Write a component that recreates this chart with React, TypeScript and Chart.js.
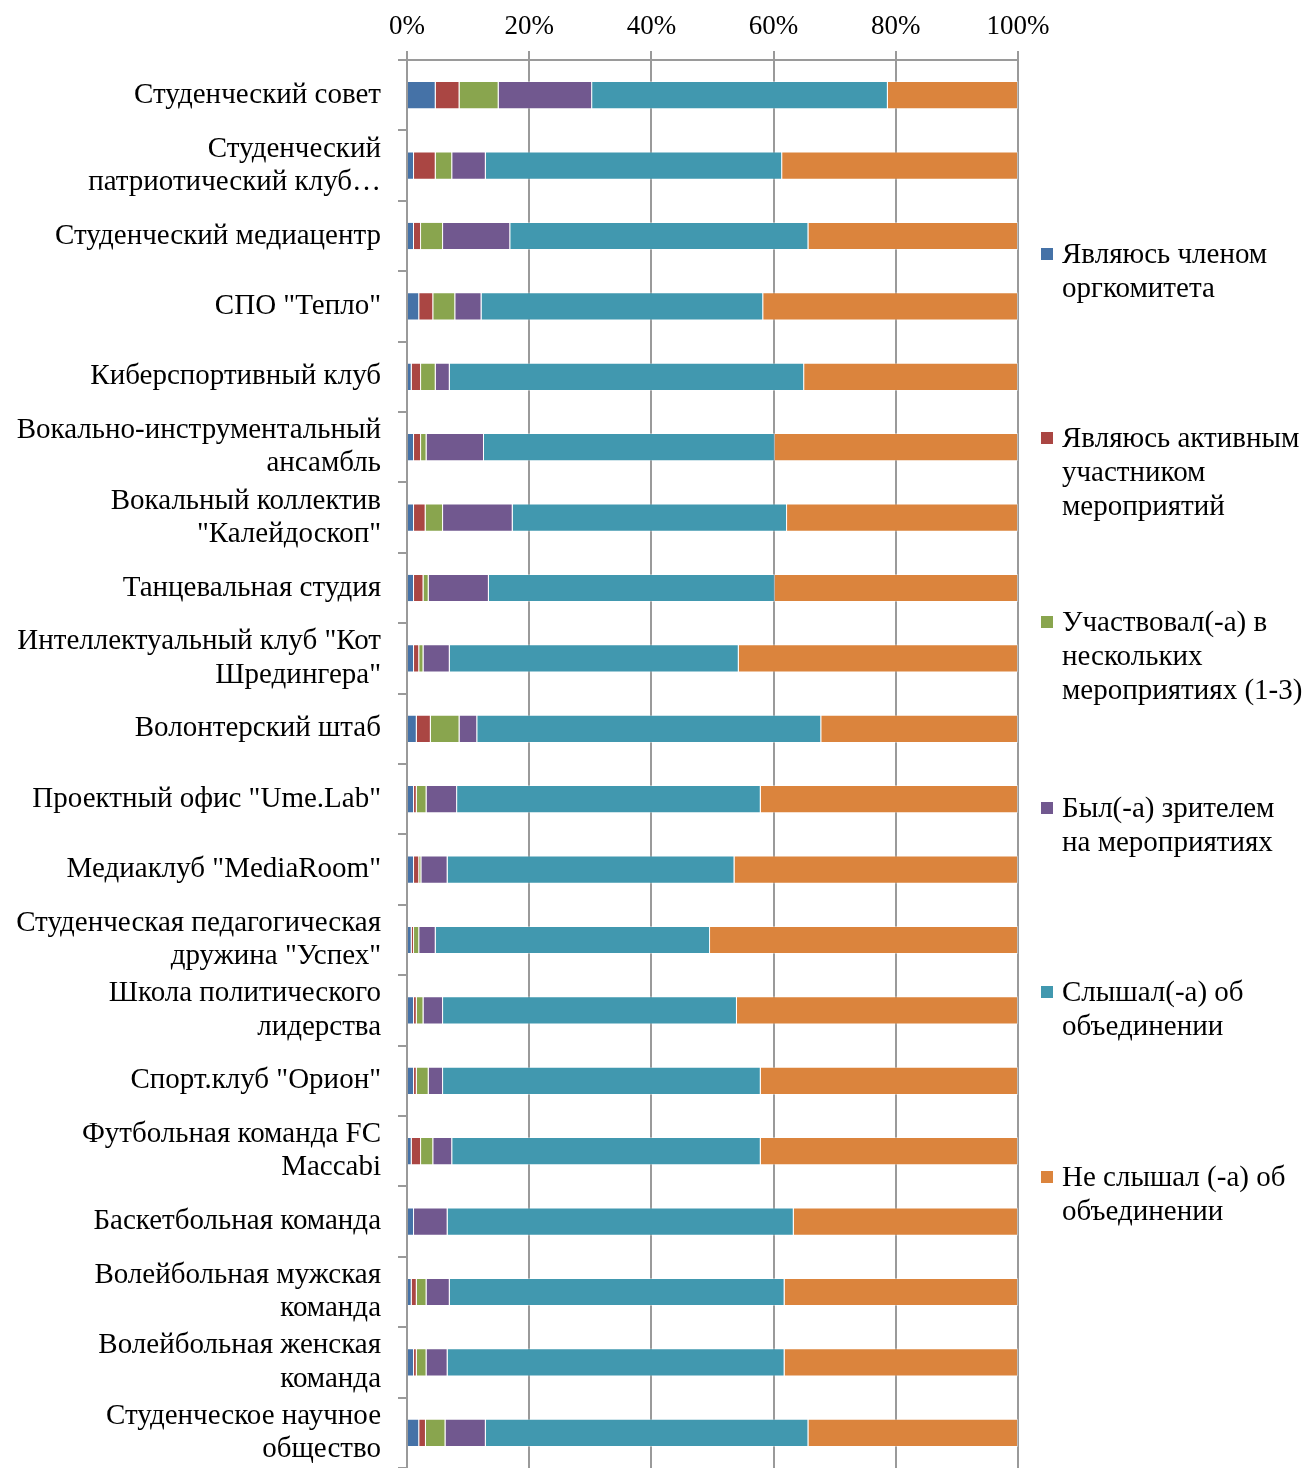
import React, { useEffect, useRef } from "react";
import { Chart, registerables } from "chart.js";

Chart.register(...registerables);

const categories: (string | string[])[] = [
  "Студенческий совет",
  ["Студенческий", "патриотический клуб…"],
  "Студенческий медиацентр",
  'СПО "Тепло"',
  "Киберспортивный клуб",
  ["Вокально-инструментальный", "ансамбль"],
  ["Вокальный коллектив", '"Калейдоскоп"'],
  "Танцевальная студия",
  ['Интеллектуальный клуб "Кот', 'Шредингера"'],
  "Волонтерский штаб",
  'Проектный офис "Ume.Lab"',
  'Медиаклуб "MediaRoom"',
  ["Студенческая педагогическая", 'дружина "Успех"'],
  ["Школа политического", "лидерства"],
  'Спорт.клуб "Орион"',
  ["Футбольная команда FC", "Maccabi"],
  "Баскетбольная команда",
  ["Волейбольная мужская", "команда"],
  ["Волейбольная женская", "команда"],
  ["Студенческое научное", "общество"],
];

const orgMembers = [4.7, 1.15, 1.15, 2.0, 0.77, 1.15, 1.15, 1.15, 1.15, 1.6, 1.15, 1.15, 0.77, 1.15, 1.15, 0.77, 1.15, 0.77, 1.15, 2.0];
const activeParticipants = [3.9, 3.55, 1.15, 2.3, 1.53, 1.15, 1.9, 1.55, 0.85, 2.3, 0.45, 0.85, 0.38, 0.45, 0.45, 1.53, 0, 0.83, 0.45, 1.1];
const participatedFew = [6.4, 2.7, 3.6, 3.6, 2.4, 0.9, 2.85, 0.85, 0.7, 4.7, 1.6, 0.35, 0.85, 1.1, 1.95, 2.0, 0, 1.6, 1.6, 3.2];
const spectators = [15.3, 5.5, 11.0, 4.3, 2.3, 9.4, 11.4, 9.85, 4.3, 2.9, 5.0, 4.3, 2.7, 3.2, 2.35, 3.1, 5.5, 3.8, 3.45, 6.6];
const heardOf = [48.4, 48.5, 48.8, 46.1, 58.0, 47.6, 44.9, 46.8, 47.3, 56.3, 49.7, 46.95, 44.9, 48.1, 52.0, 50.5, 56.65, 54.8, 55.15, 52.8];
const notHeard = [21.3, 38.6, 34.3, 41.7, 35.0, 39.8, 37.8, 39.8, 45.7, 32.2, 42.1, 46.4, 50.4, 46.0, 42.1, 42.1, 36.7, 38.2, 38.2, 34.3];

const seriesNames = [
  "Являюсь членом оргкомитета",
  "Являюсь активным участником мероприятий",
  "Участвовал(-а) в нескольких мероприятиях (1-3)",
  "Был(-а) зрителем на мероприятиях",
  "Слышал(-а) об объединении",
  "Не слышал (-а) об объединении",
];
const legendLines = [
  ["Являюсь членом", "оргкомитета"],
  ["Являюсь активным", "участником", "мероприятий"],
  ["Участвовал(-а) в", "нескольких", "мероприятиях (1-3)"],
  ["Был(-а) зрителем", "на мероприятиях"],
  ["Слышал(-а) об", "объединении"],
  ["Не слышал (-а) об", "объединении"],
];
const xTicks = [0, 20, 40, 60, 80, 100];

const COLORS = ["#4572A7", "#AA4643", "#89A54E", "#71588F", "#4198AF", "#DB843D"];
const LEGEND_Y = [254, 438, 622, 808, 992, 1177];
const FONT = "'Liberation Serif', 'Times New Roman', serif";
const W = 1307;
const H = 1468;

const legendPlugin = {
  id: "sideLegend",
  afterDraw(chart: any) {
    const ctx = chart.ctx;
    ctx.save();
    ctx.font = `29px ${FONT}`;
    ctx.textBaseline = "middle";
    ctx.textAlign = "left";
    chart.data.datasets.forEach((ds: any, i: number) => {
      const cy = LEGEND_Y[i];
      ctx.fillStyle = ds.backgroundColor;
      ctx.fillRect(1041, cy - 6, 12, 12);
      ctx.fillStyle = "#000";
      legendLines[i].forEach((line, k) => {
        ctx.fillText(line, 1062, cy + 1 + k * 34);
      });
    });
    ctx.restore();
  },
};

export default function App() {
  const ref = useRef<HTMLCanvasElement | null>(null);
  useEffect(() => {
    if (!ref.current) return;
    const values = [orgMembers, activeParticipants, participatedFew, spectators, heardOf, notHeard];
    const chart = new Chart(ref.current, {
      type: "bar",
      data: {
        labels: categories,
        datasets: values.map((v, i) => ({
          label: seriesNames[i],
          data: v,
          backgroundColor: COLORS[i],
          borderColor: "rgba(255,255,255,0.35)",
          borderWidth: 1,
          categoryPercentage: 1,
          barPercentage: 0.4,
        })),
      },
      options: {
        indexAxis: "y",
        responsive: false,
        animation: false,
        devicePixelRatio: 1,
        layout: { padding: { top: 0, bottom: 0, left: 0, right: W - 1018 } },
        plugins: { legend: { display: false }, tooltip: { enabled: false } },
        scales: {
          x: {
            position: "top",
            stacked: true,
            min: 0,
            max: 100,
            afterBuildTicks: (scale: any) => {
              scale.ticks = xTicks.map((v) => ({ value: v }));
            },
            afterFit: (scale: any) => {
              scale.height = 60;
              scale.paddingLeft = 0;
            },
            ticks: {
              callback: (v: any) => v + "%",
              color: "#000",
              padding: 8,
              font: { family: FONT, size: 27 },
              maxRotation: 0,
            },
            grid: { color: "#9a9a9a", lineWidth: 2, tickLength: 9, drawTicks: true },
            border: { color: "#9a9a9a", width: 2 },
          },
          y: {
            stacked: true,
            afterFit: (scale: any) => {
              scale.width = 407;
              scale.paddingTop = 0;
              scale.paddingBottom = 0;
            },
            ticks: {
              color: "#000",
              padding: 17,
              font: { family: FONT, size: 29, lineHeight: 1.15 },
              autoSkip: false,
            },
            grid: { color: "#9a9a9a", lineWidth: 2, tickLength: 9, drawOnChartArea: false, offset: true },
            border: { color: "#9a9a9a", width: 2 },
          },
        },
      },
      plugins: [legendPlugin],
    } as any);
    return () => chart.destroy();
  }, []);
  return (
    <div style={{ position: "fixed", left: 0, top: 0, width: W, height: H, background: "#fff" }}>
      <canvas ref={ref} width={W} height={H} style={{ display: "block", width: W, height: H }} />
    </div>
  );
}
